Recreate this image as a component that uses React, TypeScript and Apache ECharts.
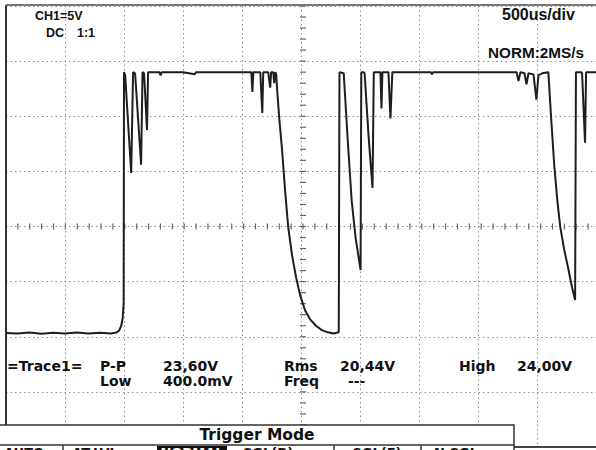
import React, { useEffect, useRef } from "react";
import * as echarts from "echarts";

// Time in ms (500 us/div, 10 divisions) and voltage in V (5 V/div)
const timeMs = [
  0.0, 0.1, 0.2, 0.3, 0.4, 0.5, 0.6, 0.7, 0.8, 0.89, 0.934, 0.96, 0.976, 0.989, 0.997,
  1.0, 1.01, 1.061, 1.077, 1.094, 1.145, 1.157, 1.17, 1.195, 1.204,
  1.3, 1.31, 1.32, 1.5, 1.6, 1.61,
  2.079, 2.088, 2.096, 2.155, 2.172, 2.18, 2.222, 2.239, 2.247, 2.265, 2.273, 2.282,
  2.29, 2.298, 2.315, 2.34, 2.365, 2.391, 2.424, 2.458, 2.492, 2.534, 2.576, 2.626, 2.677, 2.727, 2.778, 2.82,
  2.826, 2.862, 2.896, 2.929, 2.963, 3.005,
  3.011, 3.03, 3.039, 3.072, 3.106, 3.117,
  3.173, 3.182, 3.19, 3.241, 3.258, 3.274,
  3.6, 3.61, 3.62, 4.0, 4.2,
  4.327, 4.343, 4.36, 4.394, 4.411, 4.428, 4.47, 4.495, 4.512, 4.545, 4.596,
  4.621, 4.646, 4.672, 4.697, 4.731, 4.764, 4.798, 4.823,
  4.83, 4.874, 4.882, 4.907, 4.916, 5.0,
];
const volts = [
  0.35, 0.3, 0.38, 0.28, 0.36, 0.3, 0.38, 0.3, 0.36, 0.3, 0.38, 0.57, 0.98, 1.7, 3.0,
  24.0, 23.7, 14.85, 24.0, 23.9, 15.6, 24.0, 23.9, 18.75, 24.0,
  24.0, 23.7, 24.0, 24.0, 23.8, 24.0,
  24.0, 22.2, 24.0, 24.0, 20.3, 24.0, 24.0, 22.6, 24.0, 24.0, 23.0, 24.0,
  23.8, 22.4, 19.9, 16.9, 13.3, 10.0, 7.4, 5.4, 3.8, 2.4, 1.6, 1.0, 0.6, 0.4, 0.3, 0.4,
  24.0, 23.9, 17.85, 12.4, 8.96, 6.05,
  24.0, 24.0, 23.9, 18.3, 13.5, 24.0,
  24.0, 20.7, 24.0, 24.0, 19.8, 24.0,
  24.0, 23.8, 24.0, 24.0, 24.0,
  24.0, 23.2, 24.0, 23.9, 22.9, 23.9, 23.8, 21.5, 23.7, 23.9, 24.0,
  19.66, 15.58, 12.4, 9.96, 7.87, 6.24, 4.42, 3.33,
  24.0, 24.0, 23.9, 17.6, 24.0, 24.0,
];

const xMin = 0;
const xMax = 5;
const xInterval = 0.5;
const yMin = -10;
const yMax = 30;
const yInterval = 5;

const headerLeft = ["CH1=5V", "DC", "1:1"];
const headerRight = ["500us/div", "NORM:2MS/s"];
const measureRow1 = ["=Trace1=", "P-P", "23,60V", "Rms", "20,44V", "High", "24,00V"];
const measureRow2 = ["Low", "400.0mV", "Freq", "---"];
const menuTitle = "Trigger Mode";
const menuItems = ["AUTO", "AT.LVL", "NORMAL", "SGL(R)", "SGL(F)", "N.SGL"];

const GRID = { left: 6, top: 6, width: 594, height: 441 };

export default function App() {
  const ref = useRef<HTMLDivElement>(null);
  useEffect(() => {
    const chart = echarts.init(ref.current!, null, { renderer: "svg" });
    const data = timeMs.map((t, i) => [t, volts[i]]);
    const cx = GRID.left + GRID.width / 2;
    const cy = GRID.top + GRID.height / 2;
    const g: any[] = [];
    // center graticule ticks
    for (let k = -25; k <= 25; k++) {
      const x = cx + (k * GRID.width) / 50;
      if (x > 596) continue;
      g.push({ type: "line", z: 1, silent: true, shape: { x1: x, y1: cy - 3, x2: x, y2: cy + 3 }, style: { stroke: "#666", lineWidth: 1.2 } });
    }
    for (let k = -20; k <= 20; k++) {
      const y = cy + (k * GRID.height) / 40;
      g.push({ type: "line", z: 1, silent: true, shape: { x1: cx - 3, y1: y, x2: cx + 3, y2: y }, style: { stroke: "#666", lineWidth: 1.2 } });
    }
    // screen borders
    g.push({ type: "line", z: 5, shape: { x1: 6, y1: 5, x2: 6, y2: 447 }, style: { stroke: "#333", lineWidth: 2 } });
    g.push({ type: "line", z: 5, shape: { x1: 6, y1: 5, x2: 596, y2: 5 }, style: { stroke: "#777", lineWidth: 2 } });
    g.push({ type: "line", z: 5, shape: { x1: 6, y1: 447, x2: 596, y2: 447 }, style: { stroke: "#444", lineWidth: 2 } });

    const sans = (size: number) => `bold ${size}px "Liberation Sans", Arial, sans-serif`;
    const wide = (size: number) => `bold ${size}px "DejaVu Sans", sans-serif`;
    const txt = (text: string, x: number, y: number, font: string, extra: any = {}) => ({
      type: "text",
      z: 50,
      x,
      y,
      style: { text, font, fill: "#111", textAlign: "left", textVerticalAlign: "middle", ...extra },
    });
    g.push(txt(headerLeft[0], 35, 16, sans(12.5)));
    g.push(txt(headerLeft[1], 46, 32.5, sans(12.5)));
    g.push(txt(headerLeft[2], 77, 32.5, sans(12.5)));
    g.push(txt(headerRight[0], 502, 14.5, sans(16)));
    g.push(txt(headerRight[1], 488, 52, sans(15.3)));

    const row1X = [7, 100, 163, 284, 340, 459, 517];
    measureRow1.forEach((s, i) => g.push(txt(s, row1X[i], 366, wide(14))));
    const row2X = [100, 163, 284, 348];
    measureRow2.forEach((s, i) => g.push(txt(s, row2X[i], 380.5, wide(14))));

    // menu box
    g.push({ type: "rect", z: 80, shape: { x: -2, y: 425, width: 516, height: 40 }, style: { fill: "#fff", stroke: "#333", lineWidth: 1.5 } });
    g.push({ type: "line", z: 81, shape: { x1: 0, y1: 445, x2: 514, y2: 445 }, style: { stroke: "#333", lineWidth: 1.5 } });
    g.push({ type: "rect", z: 81, shape: { x: 157, y: 446, width: 70, height: 20 }, style: { fill: "#111" } });
    [63, 334, 421].forEach((x) =>
      g.push({ type: "line", z: 81, shape: { x1: x, y1: 445, x2: x, y2: 452 }, style: { stroke: "#333", lineWidth: 1.5 } })
    );
    g.push({ type: "text", z: 82, x: 257, y: 435, style: { text: menuTitle, font: wide(15.5), fill: "#111", textAlign: "center", textVerticalAlign: "middle" } });
    const itemX = [24, 95, 192, 268, 377, 456];
    menuItems.forEach((s, i) =>
      g.push({
        type: "text",
        z: 82,
        x: itemX[i],
        y: 446,
        style: { text: s, font: wide(13), fill: i === 2 ? "#fff" : "#111", textAlign: "center", textVerticalAlign: "top" },
      })
    );

    chart.setOption({
      animation: false,
      backgroundColor: "#fff",
      grid: { ...GRID },
      xAxis: {
        type: "value",
        min: xMin,
        max: xMax,
        interval: xInterval,
        axisLine: { show: false },
        axisTick: { show: false },
        axisLabel: { show: false },
        splitLine: { show: true, lineStyle: { color: "#8f8f8f", width: 1, type: [1.5, 3] } },
      },
      yAxis: {
        type: "value",
        min: yMin,
        max: yMax,
        interval: yInterval,
        axisLine: { show: false },
        axisTick: { show: false },
        axisLabel: { show: false },
        splitLine: { show: true, lineStyle: { color: "#8f8f8f", width: 1, type: [1.5, 3] } },
      },
      series: [
        {
          type: "line",
          data,
          showSymbol: false,
          z: 10,
          lineStyle: { color: "#1e1e1e", width: 2 },
          clip: false,
        },
      ],
      graphic: g,
    });
    return () => chart.dispose();
  }, []);
  return <div ref={ref} style={{ position: "absolute", left: 0, top: 0, width: 596, height: 450 }} />;
}
